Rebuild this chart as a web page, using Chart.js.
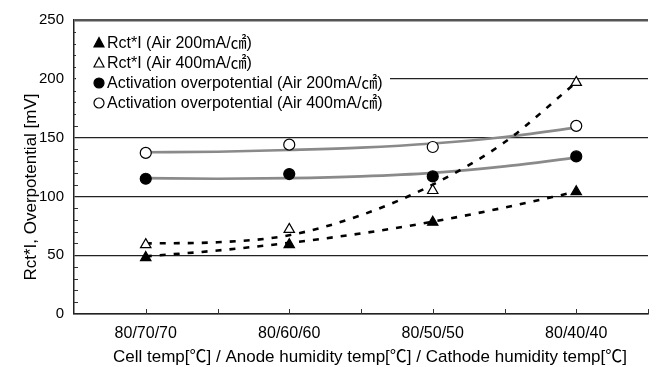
<!DOCTYPE html>
<html lang="en">
<head>
<meta charset="utf-8">
<title>Rct*I and activation overpotential vs humidity</title>
<script src="https://cdn.jsdelivr.net/npm/chart.js"></script>
<style>
  html, body { margin: 0; padding: 0; background: #fff; }
  #wrap { width: 658px; height: 367px; position: relative; }
</style>
</head>
<body>
<div id="wrap"><canvas id="humChart"></canvas></div>
<script>
// humidity conditions (cell / anode / cathode temp)
const categories = ['80/70/70', '80/60/60', '80/50/50', '80/40/40'];

// measured points
const rctAir200 = [48, 59, 78, 104];
const rctAir400 = [59, 72, 105, 197];
const actAir200 = [115, 119, 117, 134];
const actAir400 = [137, 144, 142, 160];

// fitted trend curves, read at every half step between conditions
const trendX = [1, 1.5, 2, 2.5, 3, 3.5, 4];
const rctAir200Trend = [49, 54, 60.5, 68.5, 78.5, 90.5, 104];
const rctAir400Trend = [60, 61, 67, 84, 110, 146, 197];
const actAir200Trend = [115.5, 115, 115.5, 117, 120, 125.5, 133];
const actAir400Trend = [137.5, 138, 139.5, 141.5, 145, 150.5, 158.5];

const yTicks = [0, 50, 100, 150, 200, 250];

const legendLabels = [
  'Rct*I (Air 200mA/㎠)',
  'Rct*I (Air 400mA/㎠)',
  'Activation overpotential (Air 200mA/㎠)',
  'Activation overpotential (Air 400mA/㎠)'
];

const FONT = '"Liberation Sans", "Noto Sans CJK JP", sans-serif';

const pts = arr => arr.map((v, i) => ({ x: i + 1, y: v }));
const curve = arr => arr.map((v, i) => ({ x: trendX[i], y: v }));

function markerSet(label, values, style, fill) {
  return {
    label: label, data: pts(values), showLine: false, order: 0,
    pointStyle: style, pointRadius: style === 'triangle' ? 6 : 5.5,
    pointBackgroundColor: fill, pointBorderColor: '#000', pointBorderWidth: 1.2
  };
}
function trendSet(values, color, dash) {
  return {
    data: curve(values), showLine: true, order: 1, pointRadius: 0,
    borderColor: color, borderWidth: 2.6, borderDash: dash,
    tension: 0.4, cubicInterpolationMode: 'monotone', fill: false
  };
}

// inward minor ticks, axis titles and the boxed legend
const decorations = {
  id: 'decorations',
  afterDatasetsDraw(chart) {
    const ctx = chart.ctx, area = chart.chartArea;
    const xs = chart.scales.x, ys = chart.scales.y;
    ctx.save();
    ctx.strokeStyle = '#333';
    ctx.lineWidth = 1;
    for (let v = 10; v < 250; v += 10) {
      if (v % 50 === 0) continue;
      const y = Math.round(ys.getPixelForValue(v)) + 0.5;
      ctx.beginPath(); ctx.moveTo(area.left, y); ctx.lineTo(area.left + 4, y); ctx.stroke();
    }
    for (let v = 1; v < 4.6; v += 0.5) {
      const x = Math.round(xs.getPixelForValue(v)) + 0.5;
      ctx.beginPath(); ctx.moveTo(x, area.bottom); ctx.lineTo(x, area.bottom - 5); ctx.stroke();
    }

    // legend
    ctx.fillStyle = '#fff';
    ctx.fillRect(area.left + 2, area.top + 4, 314, 96);
    const sets = chart.data.datasets.slice(0, 4);
    const rows = [43, 63, 83, 103];
    sets.forEach((ds, i) => {
      const cy = rows[i], cx = 99;
      ctx.fillStyle = ds.pointBackgroundColor;
      ctx.strokeStyle = '#000';
      ctx.lineWidth = 1.2;
      ctx.beginPath();
      if (ds.pointStyle === 'triangle') {
        ctx.moveTo(cx, cy - 5.5); ctx.lineTo(cx + 5, cy + 4); ctx.lineTo(cx - 5, cy + 4); ctx.closePath();
      } else {
        ctx.arc(cx, cy, 5, 0, Math.PI * 2);
      }
      ctx.fill(); ctx.stroke();
      ctx.fillStyle = '#000';
      ctx.font = '16px ' + FONT;
      ctx.textAlign = 'left';
      ctx.textBaseline = 'middle';
      ctx.fillText(legendLabels[i], 107, cy + 1);
    });

    // axis titles
    ctx.fillStyle = '#000';
    ctx.font = '17px ' + FONT;
    ctx.textAlign = 'center';
    ctx.textBaseline = 'middle';
    ctx.fillText('Cell temp[℃] / Anode humidity temp[℃] / Cathode humidity temp[℃]', 370, 357);
    ctx.translate(31, 187);
    ctx.rotate(-Math.PI / 2);
    ctx.fillText('Rct*I, Overpotential [mV]', 0, 0);
    ctx.restore();
  }
};

new Chart(document.getElementById('humChart'), {
  type: 'scatter',
  data: {
    datasets: [
      markerSet(legendLabels[0], rctAir200, 'triangle', '#000'),
      markerSet(legendLabels[1], rctAir400, 'triangle', '#fff'),
      markerSet(legendLabels[2], actAir200, 'circle', '#000'),
      markerSet(legendLabels[3], actAir400, 'circle', '#fff'),
      trendSet(rctAir200Trend, '#000', [6, 8]),
      trendSet(rctAir400Trend, '#000', [6, 8]),
      trendSet(actAir200Trend, '#8a8a8a', []),
      trendSet(actAir400Trend, '#8a8a8a', [])
    ]
  },
  options: {
    responsive: true,
    maintainAspectRatio: false,
    animation: false,
    layout: { padding: { top: 20, right: 0, left: 0, bottom: 0 } },
    plugins: { legend: { display: false }, tooltip: { enabled: false } },
    scales: {
      x: {
        type: 'linear', min: 0.5, max: 4.5,
        afterBuildTicks: s => { s.ticks = [0.5, 1, 1.5, 2, 2.5, 3, 3.5, 4, 4.5].map(v => ({ value: v })); },
        afterFit: s => { s.height = 53; },
        grid: { display: false, drawTicks: false },
        border: { display: true, color: '#222', width: 1.5 },
        ticks: {
          autoSkip: false, maxRotation: 0, padding: 10, color: '#000',
          font: { size: 16, family: FONT },
          callback: v => Number.isInteger(v) ? categories[v - 1] : ''
        }
      },
      y: {
        min: 0, max: 250,
        afterBuildTicks: s => { s.ticks = yTicks.map(v => ({ value: v })); },
        afterFit: s => { s.width = 74; },
        grid: {
          drawTicks: false,
          color: c => c.tick.value === 250 ? '#555' : '#222',
          lineWidth: c => c.tick.value === 250 ? 2.5 : 1.2
        },
        border: { display: true, color: '#222', width: 1.5 },
        ticks: { padding: 10, color: '#000', font: { size: 15, family: FONT } }
      }
    }
  },
  plugins: [decorations]
});
</script>
</body>
</html>
